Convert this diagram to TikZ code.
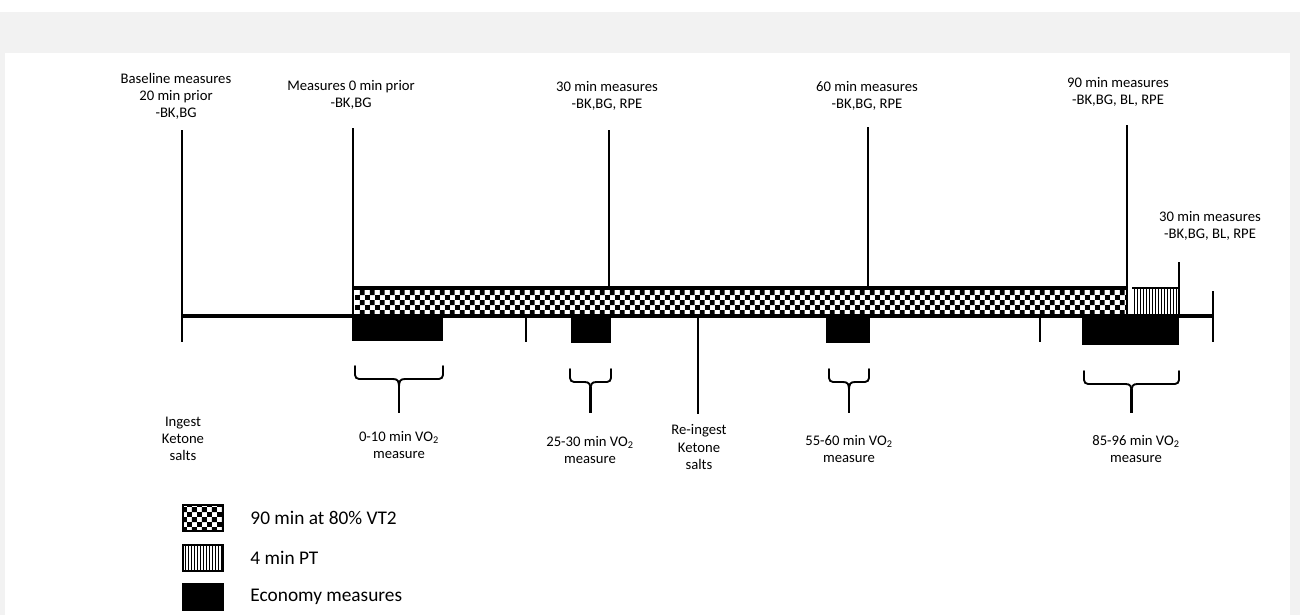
\documentclass[tikz,border=0pt]{standalone}
\usepackage{fontspec}
\setmainfont{Carlito}
\definecolor{panelgray}{RGB}{242,242,242}
\usetikzlibrary{patterns,positioning}

% fill patterns for the phases
\pgfdeclarepatternformonly{checks}{\pgfpointorigin}{\pgfqpoint{7.4pt}{7.4pt}}{\pgfqpoint{7.4pt}{7.4pt}}{%
  \pgfpathrectangle{\pgfpointorigin}{\pgfqpoint{3.7pt}{3.7pt}}%
  \pgfpathrectangle{\pgfqpoint{3.7pt}{3.7pt}}{\pgfqpoint{3.7pt}{3.7pt}}%
  \pgfusepath{fill}}
\pgfdeclarepatternformonly{stripes}{\pgfpointorigin}{\pgfqpoint{2.1pt}{1pt}}{\pgfqpoint{2.1pt}{1pt}}{%
  \pgfpathrectangle{\pgfpointorigin}{\pgfqpoint{0.7pt}{1pt}}%
  \pgfusepath{fill}}

\begin{document}
\begin{tikzpicture}
    [x=0.75pt,y=-0.75pt,
      event/.style={line width=2.2pt},
      axisline/.style={line width=3pt},
      brace/.style={line width=1.4pt,line cap=round},
      toplab/.style={font=\fontsize{11pt}{12.75pt}\selectfont,align=center,inner sep=0pt},
      lowlab/.style={font=\fontsize{11pt}{13pt}\selectfont,align=center,inner sep=0pt},
      legbox/.style={draw,line width=0.8pt,minimum width=30pt,minimum height=19.5pt,inner sep=0pt},
      legtext/.style={font=\fontsize{14.5pt}{17pt}\selectfont,inner sep=0pt}]

  % page and panel
  \useasboundingbox (0,0) rectangle (1300,615);
  \fill[white] (0,0) rectangle (1300,615);
  \fill[panelgray] (0,12) rectangle (1300,615);
  \fill[white] (5,53) rectangle (1290,615);

  % economy measures
  \fill (353,316) rectangle (443,341);
  \fill (571,316) rectangle (611,343);
  \fill (826,316) rectangle (870,343);
  \fill (1082,316) rectangle (1179,345);

  % 90 min at 80% VT2 and 4 min PT
  \fill[pattern=checks] (355,290) rectangle (1126,314);
  \draw[line width=3pt] (353,288) -- (1128,288);
  \fill[pattern=stripes] (1132,289) rectangle (1177,314);
  \draw[line width=0.8pt] (1132,288) -- (1179,288);

  % time axis
  \coordinate (start) at (182,316);
  \coordinate (finish) at (1213,316);
  \draw[axisline] (start) -- (finish);

  \foreach \x/\ya/\yb in {182/130/342, 353/128/341, 609/130/288, 868/127/288,
      1127/125/316, 1179/262/316, 1213/291/342, 526/316/342, 1040/316/342, 698/316/414}
    \draw[event] (\x,\ya) -- (\x,\yb);

  % braces under the economy measures
  \foreach \xa/\xb/\yt in {355/443/366, 570/611/369, 829/869/369, 1084/1179/371}{
    \pgfmathsetmacro{\xc}{(\xa+\xb)/2}
    \draw[brace,rounded corners=3pt] (\xa,\yt) -- (\xa,\yt+13) -- (\xc-6,\yt+13);
    \draw[brace,rounded corners=3pt] (\xb,\yt) -- (\xb,\yt+13) -- (\xc+6,\yt+13);
    \draw[brace] (\xc-6,\yt+13) .. controls (\xc-1,\yt+13) and (\xc,\yt+15) .. (\xc,\yt+22);
    \draw[brace] (\xc+6,\yt+13) .. controls (\xc+1,\yt+13) and (\xc,\yt+15) .. (\xc,\yt+22);
    \draw[line width=1.7pt] (\xc,\yt+18) -- (\xc,413);
  }

  % labels above the axis
  \node[toplab] (lbase) at (176,96) {Baseline measures\\20 min prior\\-BK,BG};
  \node[toplab] (lzero) at (351,95) {Measures 0 min prior\\-BK,BG};
  \node[toplab] (lthirty) at (607,96) {30 min measures\\-BK,BG, RPE};
  \node[toplab] (lsixty) at (867,96) {60 min measures\\-BK,BG, RPE};
  \node[toplab] (lninety) at (1118,92) {90 min measures\\-BK,BG, BL, RPE};
  \node[toplab] (lpost) at (1210,226) {30 min measures\\-BK,BG, BL, RPE};

  % labels below the axis
  \node[lowlab] (lingest) at (183,439) {Ingest\\Ketone\\salts};
  \node[lowlab] (lecoa) at (399,445) {0-10 min VO\textsubscript{2}\\measure};
  \node[lowlab] (lecob) at (590,450) {25-30 min VO\textsubscript{2}\\measure};
  \node[lowlab] (lreingest) at (699,447) {Re-ingest\\Ketone\\salts};
  \node[lowlab] (lecoc) at (849,449) {55-60 min VO\textsubscript{2}\\measure};
  \node[lowlab] (lecod) at (1136,449) {85-96 min VO\textsubscript{2}\\measure};

  % legend
  \node[legbox,pattern=checks] (legchk) at (203,518) {};
  \node[legtext,right=20pt of legchk] (legchktxt) {90 min at 80\% VT2};
  \node[legbox,pattern=stripes] (legpt) at (203,558) {};
  \node[legtext,right=20pt of legpt] (legpttxt) {4 min PT};
  \node[legbox,fill=black] (legeco) at (203,597) {};
  \node[legtext,right=20pt of legeco] (legecotxt) {Economy measures};
\end{tikzpicture}
\end{document}
